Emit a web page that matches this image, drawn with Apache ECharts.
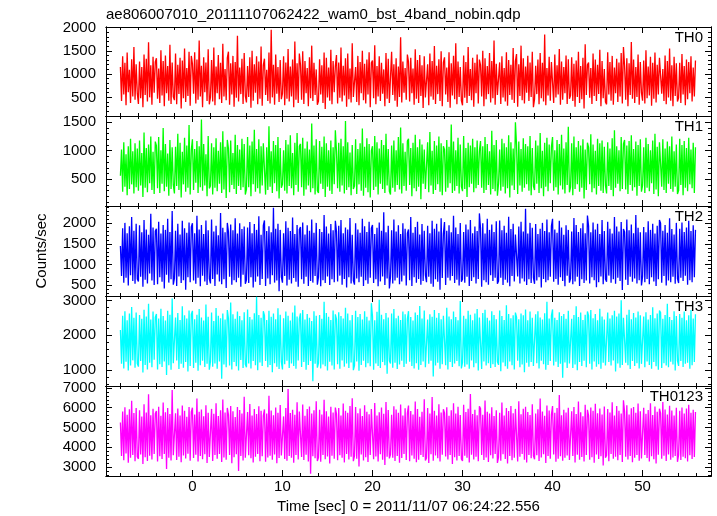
<!DOCTYPE html>
<html><head><meta charset="utf-8">
<script src="https://cdn.jsdelivr.net/npm/echarts@6/dist/echarts.min.js"></script>
<style>html,body{margin:0;padding:0;background:#fff}#c{width:717px;height:516px}</style>
</head><body><div id="c"></div>
<script>
const chartTitle = "ae806007010_20111107062422_wam0_bst_4band_nobin.qdp";
const xName = "Time [sec] 0 = 2011/11/07 06:24:22.556";
const yName = "Counts/sec";
const panelNames = ["TH0", "TH1", "TH2", "TH3", "TH0123"];
const timeStart = -8;
const binWidth = 0.125;

const th0 = [
1150,420,1380,560,1240,330,1460,610,1090,380,1320,520,1580,450,1210,590,
360,1270,480,1150,290,1420,550,1330,410,1680,500,1190,340,1370,600,1260,
1340,470,1120,380,1510,540,1280,310,1400,590,1170,430,1630,360,1250,510,
440,1440,350,1200,570,1350,260,1290,480,1550,400,1130,530,1480,320,1390,
1220,580,1470,370,1310,450,1720,520,1180,290,1360,610,1250,420,1530,350,
500,1300,410,1570,330,1160,590,1410,460,1240,380,1650,520,1110,440,1350,
1480,340,1230,560,1390,300,1260,490,1820,410,1140,570,1330,360,1450,530,
390,1170,510,1360,280,1500,430,1210,600,1380,350,1270,470,1590,320,1190,
1330,550,1090,420,1460,370,1950,500,1200,340,1420,580,1150,400,1300,460,
580,1380,330,1250,470,1540,410,1160,520,1310,290,1700,450,1230,380,1440,
1200,450,1490,360,1280,590,1130,310,1360,480,1610,420,1240,550,1100,340,
420,1320,560,1190,380,1460,250,1350,500,1140,430,1520,350,1280,610,1170,
1410,370,1250,490,1570,410,1180,540,1340,300,1440,460,1120,390,1660,510,
530,1150,400,1390,330,1260,590,1500,440,1220,370,1310,560,1470,290,1240,
1290,480,1620,350,1170,520,1380,420,1240,580,1100,310,1450,470,1330,380,
360,1480,550,1210,430,1340,300,1160,510,1790,390,1270,600,1130,450,1420,
1260,410,1350,590,1120,340,1530,470,1300,380,1410,530,1190,270,1380,500,
470,1210,330,1440,520,1280,450,1600,360,1180,570,1320,420,1490,310,1250,
1360,560,1140,400,1470,280,1230,540,1390,460,1660,350,1270,510,1150,430,
330,1400,490,1260,380,1580,530,1110,440,1350,300,1240,590,1420,370,1310,
1190,520,1500,310,1340,460,1170,570,1450,390,1280,480,1720,340,1220,550,
580,1250,360,1380,500,1130,410,1470,320,1300,550,1200,450,1560,380,1280,
1430,300,1210,530,1610,440,1340,370,1160,600,1390,420,1250,510,1480,290,
460,1180,570,1310,350,1450,480,1240,410,1850,330,1130,540,1370,430,1260,
1300,380,1420,500,1190,560,1540,340,1270,450,1150,590,1400,360,1320,470,
540,1360,420,1220,300,1290,510,1480,380,1170,460,1350,260,1640,550,1200,
1250,490,1130,360,1440,530,1310,420,1200,570,1520,310,1280,480,1110,400,
350,1470,560,1260,430,1390,340,1140,590,1330,400,1250,520,1450,370,1580,
1180,450,1340,310,1230,550,1690,470,1310,380,1150,510,1420,340,1260,600,
430,1290,370,1510,480,1160,540,1370,320,1240,470,1460,390,1200,560,1350,
1320,580,1110,420,1400,350,1280,500,1550,430,1190,310,1370,530,1230,410,
490,1240,380,1430,560,1170,330,1310,460,1260,590,1380,410,1140,520,1290];

const th1 = [
560,1020,280,1150,370,940,220,1080,330,1210,410,990,250,1130,360,1040,
300,1180,390,960,190,1320,350,1050,270,1110,430,1250,310,980,240,1160,
1090,340,1240,260,1010,420,1400,290,1120,370,950,210,1190,330,1060,400,
250,1070,380,1300,310,1140,180,980,410,1230,280,1090,350,1450,230,1010,
1200,310,1030,440,1170,260,1080,360,1550,300,1120,390,940,200,1260,340,
380,1130,230,1060,350,1220,290,1000,420,1150,260,1340,320,1070,170,1190,
1040,270,1180,400,960,330,1280,240,1100,380,1020,310,1210,360,1120,230,
320,1240,360,1090,200,1160,410,1370,280,1030,340,1200,250,1080,390,1130,
1150,230,1060,310,1430,370,990,260,1170,430,1100,290,1240,160,1050,350,
410,1010,300,1190,250,1110,380,1270,340,960,220,1140,400,1310,280,1080,
1120,360,1230,210,1040,320,1160,390,1020,270,1480,340,1090,230,1200,300,
260,1170,420,1070,330,1250,190,1130,370,1010,300,1180,240,1060,410,1360,
990,340,1140,280,1210,390,1080,250,1520,310,1150,360,970,220,1100,330,
380,1200,240,1030,410,1130,300,1390,210,1070,350,1220,270,1120,180,1000,
1080,310,1260,370,1150,230,1040,420,1190,330,1100,260,1300,390,1030,290,
230,1090,350,1180,280,1010,400,1240,320,1410,250,1130,380,980,300,1170,
1210,400,1050,200,1140,340,1280,290,1060,370,1200,150,1110,420,1020,330,
360,1150,270,1330,390,1000,240,1170,310,1090,410,1250,280,1130,220,1080,
1020,280,1190,350,1070,430,1460,260,1160,300,1010,380,1230,250,1110,370,
290,1260,330,1050,190,1140,360,1090,420,1210,270,1060,340,1180,400,1000,
1170,350,1080,260,1240,310,1120,400,990,230,1350,330,1100,290,1190,210,
420,1020,300,1210,370,1130,250,1060,340,1270,180,1150,390,1040,310,1500,
1100,240,1160,390,1030,280,1220,350,1120,410,1080,300,1260,220,1050,380,
310,1180,420,1090,260,1310,340,1000,200,1140,370,1230,290,1110,430,1070,
1240,300,1010,360,1190,230,1120,390,1280,320,1040,250,1150,400,1420,270,
360,1130,220,1250,330,1060,410,1170,280,1090,350,1200,160,1020,310,1140,
1060,410,1290,270,1110,340,1000,230,1210,380,1130,300,1180,260,1070,390,
250,1150,380,1040,310,1220,200,1360,350,1080,420,1010,290,1240,330,1120,
1190,320,1090,240,1170,400,1270,300,1030,360,1160,210,1100,380,1200,280,
390,1060,260,1230,350,1120,290,1010,430,1180,240,1300,320,1070,200,1150,
1130,370,1200,310,1040,260,1160,420,1080,330,1250,280,990,370,1110,240,
300,1210,400,1100,220,1170,350,1050,290,1230,410,1020,340,1140,260,1060];

const th2 = [
1450,720,1880,560,2010,680,1760,490,1930,740,2150,600,1820,530,1990,650,
590,1950,700,1780,460,2080,630,1850,540,1720,780,2230,610,1900,500,1810,
1870,520,2040,690,1750,580,1960,420,1840,750,2110,560,1790,640,2300,510,
660,1820,480,1990,710,1730,550,2060,620,1880,390,1770,690,2020,570,1910,
2000,610,1760,530,2180,680,1850,470,1960,730,1740,590,2070,500,1830,660,
540,2090,650,1800,480,1940,760,1710,590,2250,520,1890,640,1780,430,2010,
1790,700,1970,510,1830,620,2120,570,1750,680,2000,460,1860,750,1920,530,
620,1900,550,2030,690,1760,440,1980,580,1840,710,2170,500,1720,650,1950,
2070,480,1810,660,1930,520,1780,740,2380,560,1870,610,1990,350,1840,700,
560,1760,720,2050,490,1890,630,1810,540,2140,670,1740,580,1960,460,1850,
1910,640,2020,530,1730,700,1950,480,1820,600,2090,560,1770,720,2010,510,
690,1860,470,1790,620,2200,550,1920,710,1750,500,1980,640,1830,570,2060,
1800,590,1940,730,2080,510,1760,650,1900,440,1850,690,2130,540,1720,610,
510,2000,660,1850,570,1770,700,2110,480,1930,620,1790,530,2040,680,1880,
1960,550,1740,640,1890,470,2020,590,1820,710,2270,500,1780,660,1940,420,
700,1830,540,2090,610,1800,680,1950,520,1740,590,2000,730,1870,490,1760,
1850,620,2150,480,1770,690,1910,560,2040,650,1730,510,1980,600,1820,740,
570,1940,700,1760,530,2060,460,1870,640,1990,580,1800,390,2120,670,1750,
2030,500,1820,680,1950,610,1780,720,2180,550,1900,630,1740,490,2010,580,
640,1790,560,1970,700,1850,480,2080,600,1760,690,1920,540,1810,650,2240,
1880,460,2000,620,1750,570,2110,510,1840,740,1970,600,1790,680,2050,530,
600,2070,680,1830,500,1940,630,1770,560,2160,470,1860,720,1990,590,1730,
1760,710,1920,540,2040,660,1800,590,2350,500,1750,640,2010,550,1890,680,
530,1980,610,1740,690,1870,440,2010,650,1810,570,2090,620,1780,700,1930,
2110,580,1850,650,1770,510,2060,690,1900,600,1720,470,1950,730,1840,560,
660,1800,520,2130,590,1960,700,1790,480,1880,640,2000,550,1760,610,2190,
1930,540,1780,690,2020,620,1850,450,1990,570,1740,710,2080,520,1810,650,
580,2040,730,1870,560,1750,640,2150,530,1920,680,1800,600,2030,380,1860,
1790,630,2090,500,1830,700,1970,580,1760,660,2200,540,1890,620,1780,490,
710,1910,570,1780,650,2050,520,1840,690,1990,590,1750,480,1940,640,2080,
2000,560,1820,720,1960,490,1770,610,2120,570,1860,700,1730,530,2010,660,
550,1870,680,2020,600,1790,730,1900,510,2060,620,1810,570,1950,690,1840];

const th3 = [
2150,1180,2560,1050,2690,1240,2430,990,2620,1130,2810,1280,2500,1070,2650,1190,
1100,2580,1260,2470,930,2730,1150,2540,1020,2900,1210,2450,1080,2680,1300,2520,
2610,1020,2480,1170,2760,1090,2550,1250,2420,860,2700,1140,2590,1010,3050,1200,
1150,2510,1280,2640,1030,2440,1180,2830,1070,2570,1230,2480,960,2710,1120,2600,
2700,1060,2460,1210,2590,980,2750,1140,2510,1270,2420,1090,2880,1180,2530,1010,
1240,2650,1100,2410,1190,2780,1040,2560,1250,2490,750,2620,1160,2450,1080,2720,
2480,1130,2940,1020,2600,1230,2470,1110,2680,990,2550,1290,2430,1060,2660,1170,
1080,2740,1190,2520,1050,2450,1260,2630,1140,3100,1000,2580,1220,2500,1120,2690,
2570,1260,2440,1080,2700,1150,2530,940,2620,1200,2460,1100,2770,1030,2590,1240,
1020,2490,1170,2680,1270,2560,1060,2420,1190,2650,1120,2850,1040,2540,1280,2470,
2630,1090,2720,1230,2450,1010,2610,1150,2500,1260,2410,680,2690,1180,2560,1070,
1200,2580,1050,2470,1160,2960,1110,2640,990,2530,1240,2440,1130,2710,1020,2600,
2460,1170,2660,1040,2550,1280,2480,1100,2790,1190,2620,1060,2430,1220,2580,1000,
1130,2700,1250,2520,980,2610,1150,2450,1270,2690,1080,2530,1200,2420,1110,2920,
2540,1010,2430,1190,2670,1120,3020,1060,2590,1230,2460,1140,2640,900,2510,1260,
1190,2620,1070,2750,1210,2490,1030,2560,1160,2440,1270,2680,1090,2600,1180,2470,
2690,1240,2520,1120,2420,1050,2650,1200,2580,1010,2840,1150,2480,1250,2710,1080,
1060,2450,1180,2600,1270,2530,820,2720,1130,2500,1210,2640,1040,2460,1170,2560,
2600,1140,2790,1020,2540,1230,2460,1090,2680,1190,2520,1260,2430,1110,2980,1050,
1220,2560,1100,2470,1160,2700,1040,2590,1280,2430,1080,2620,1200,2750,990,2510,
2480,1030,2640,1250,2730,1130,2500,1200,2420,1060,2690,1170,2580,1090,2460,1240,
1150,2710,970,2550,1220,2440,1110,2860,1040,2610,1250,2490,1140,2570,1020,2650,
2520,1270,2460,1080,2620,1160,2570,940,2740,1210,2430,1100,2680,1230,2500,1120,
1100,2600,1200,2690,1050,2510,1270,2450,1170,2630,1010,2960,1150,2480,1260,2560,
2740,1130,2500,1240,2440,1090,2660,1180,2550,780,2610,1220,2470,1060,2700,1190,
1240,2470,1060,2580,1160,2830,1000,2520,1230,2650,1120,2440,1270,2590,1080,2680,
2560,1180,2720,1020,2490,1250,2610,1100,2430,1170,2760,1040,2540,1210,2450,1130,
1090,2650,1230,2480,1130,2570,1280,2700,960,2540,1190,2620,1070,3000,1150,2500,
2470,1210,2590,1140,2730,1030,2460,1260,2640,1120,2510,1200,2680,1050,2570,1180,
1170,2540,1080,2660,1250,2450,1150,2580,1040,2800,1230,2490,1110,2620,1010,2710,
2650,1060,2470,1200,2580,1130,2900,1080,2520,1240,2440,1160,2690,990,2550,1270,
1120,2610,1260,2500,1090,2680,1180,2430,1210,2570,1040,2720,1140,2480,1230,2600];

const th0123 = [
5250,3560,5810,3340,6020,3680,5640,3210,5920,3470,6350,3600,5730,3290,5980,3520,
3410,5870,3630,5550,3150,6180,3490,5760,3300,6680,3570,5620,3380,5950,3660,5700,
5830,3270,6050,3540,5590,3400,6260,3650,5770,2900,5990,3460,5680,3320,6900,3590,
3600,5720,3350,5960,3510,5610,3240,6110,3580,5850,3430,5540,3670,6030,3310,5790,
6000,3450,5660,3620,6470,3280,5800,3550,5910,3390,5570,3640,6120,3200,5740,3500,
3530,5940,3300,5690,3600,6220,3420,5580,3660,5870,3250,6410,3480,5760,3360,5990,
5650,3610,6080,3190,5820,3490,5530,3640,6040,2800,5880,3560,5710,3330,6550,3470,
3370,5780,3590,6190,3440,5610,3220,5930,3520,5680,3650,6070,3290,5840,3540,5600,
5910,3260,5700,3480,6600,3570,5860,3360,5620,3630,6010,3190,5750,3450,6140,3580,
3640,5560,3400,5980,3310,6950,3560,5730,3460,5890,3210,5640,3600,6280,3380,5810,
5780,3500,6160,3350,5590,3620,5940,3270,6060,2650,5710,3540,5870,3440,6330,3300,
3480,5900,3260,5650,3610,6400,3390,5820,3530,5560,3180,6050,3570,5760,3420,6010,
5690,3340,5980,3590,5610,3460,6210,3230,5850,3650,5740,3380,6090,3520,6480,3290,
3560,6030,3410,5720,3020,5960,3630,5580,3320,6120,3490,5800,3250,5670,3600,5930,
5850,3390,6240,3530,5600,3280,5770,3640,6010,3360,5690,3100,6290,3510,5880,3430,
3620,5640,3470,6070,3300,5910,3560,5750,3210,6160,3450,5600,3660,5970,3350,5730,
6110,3290,5830,3580,5660,3420,6310,3240,5940,3370,5540,3610,5800,3500,6430,3320,
3450,5990,3200,5700,3640,6540,3310,5850,3580,5610,3440,6180,3270,5760,3620,5920,
5740,3530,6020,3380,5590,3600,5870,3150,6230,3490,5710,3330,6050,3560,5630,3410,
3300,6150,3570,5780,3460,5950,3220,6700,3620,5680,3380,5890,3510,5620,3290,6070,
5960,3610,5640,3350,6370,3480,5800,3250,5710,3590,6020,3430,5580,3660,5870,3200,
3500,5750,3310,6260,3640,5600,3400,5980,3180,5830,3550,6090,3340,5720,3470,5940,
5880,3270,6330,3520,5670,3650,5950,3370,6050,3230,5780,3610,5630,3440,6180,3560,
3390,5700,3590,5920,3300,6460,3480,5810,3640,5590,3200,6110,3550,5860,3420,5650,
6080,3630,5740,3260,5990,3410,6640,3540,5620,3310,5900,3470,5760,3580,6000,3350,
3440,5820,3560,6040,3230,5680,3620,6320,3370,5770,3500,5570,3280,6150,3600,5890,
5610,3360,6010,3490,5850,3210,6200,3630,5720,3400,5960,3540,5650,3070,6060,3460,
3580,5930,3290,5760,3650,6270,3420,5600,3510,6080,3340,5840,3610,5710,3250,6380,
5790,3520,6130,3380,5660,3560,5970,3240,6030,3470,5740,3600,6210,3310,5820,3430,
3330,6000,3600,5690,3450,5880,3270,6220,3540,5630,3390,6060,3180,5800,3620,5950,
5720,3410,6290,3570,5910,3300,5650,3630,6100,3360,5860,3480,5600,3550,6000,3260,
3610,5840,3350,6010,3520,5700,3440,5960,3280,6150,3590,5750,3400,5890,3500,5780];

const xRange = [-9.6, 57.6];
const xMajorTicks = [0, 10, 20, 30, 40, 50];
const xMinorTicks = [-8,-6,-4,-2,2,4,6,8,12,14,16,18,22,24,26,28,32,34,36,38,42,44,46,48,52,54,56];
const yRanges = [[100, 2010], [30, 1610], [235, 2420], [545, 3125], [2540, 7100]];
const yMajorTicks = [
  [500, 1000, 1500, 2000],
  [500, 1000, 1500],
  [500, 1000, 1500, 2000],
  [1000, 2000, 3000],
  [3000, 4000, 5000, 6000, 7000]];
const yMinorTicks = [
  [200,300,400,600,700,800,900,1100,1200,1300,1400,1600,1700,1800,1900],
  [100,200,300,400,600,700,800,900,1100,1200,1300,1400,1600],
  [300,400,600,700,800,900,1100,1200,1300,1400,1600,1700,1800,1900,2100,2200,2300,2400],
  [600,800,1200,1400,1600,1800,2200,2400,2600,2800],
  [2600,2800,3200,3400,3600,3800,4200,4400,4600,4800,5200,5400,5600,5800,6200,6400,6600,6800]];

const seriesValues = [th0, th1, th2, th3, th0123];
const colors = ['#ff0000', '#00ff00', '#0000ff', '#00ffff', '#ff00ff'];

const FONT = 'Liberation Sans, Arial, Helvetica, sans-serif';
const gridTops = [27, 116, 206, 296, 386];
const gridHeights = [89, 90, 90, 90, 90];
const gridLeft = 106, gridRight = 6;
const plainNum = v => String(v);

const grids = [], xAxes = [], yAxes = [], series = [], graphics = [];

for (let g = 0; g < 5; g++) {
  grids.push({left: gridLeft, right: gridRight, top: gridTops[g], height: gridHeights[g],
    containLabel: false, outerBoundsMode: 'none', show: false});
  const lastPanel = g === 4;
  const mkX = (pos, ticks, len, withLabel) => ({
    type: 'value', gridIndex: g, position: pos, min: xRange[0], max: xRange[1], offset: 0,
    axisLine: {show: true, onZero: false, lineStyle: {color: '#000', width: 1}},
    axisTick: {show: true, inside: true, length: len, customValues: ticks, lineStyle: {color: '#000', width: 1}},
    axisLabel: {show: withLabel, customValues: ticks, margin: 3, color: '#000', fontSize: 15, fontFamily: FONT, formatter: plainNum},
    splitLine: {show: false}, minorTick: {show: false},
    name: (withLabel ? xName : ''), nameLocation: 'middle', nameGap: 23,
    nameTextStyle: {color: '#000', fontSize: 15, fontFamily: FONT}
  });
  const xBase = xAxes.length;
  xAxes.push(mkX('bottom', xMajorTicks, 6, lastPanel));
  xAxes.push(mkX('bottom', xMinorTicks, 3, false));
  xAxes.push(mkX('top', xMajorTicks, 6, false));
  xAxes.push(mkX('top', xMinorTicks, 3, false));

  const mkY = (pos, ticks, len, withLabel) => ({
    type: 'value', gridIndex: g, position: pos, min: yRanges[g][0], max: yRanges[g][1], offset: 0,
    axisLine: {show: true, onZero: false, lineStyle: {color: '#000', width: 1}},
    axisTick: {show: true, inside: true, length: len, customValues: ticks, lineStyle: {color: '#000', width: 1}},
    axisLabel: {show: withLabel, customValues: ticks, margin: 10, color: '#000', fontSize: 15, fontFamily: FONT, formatter: plainNum},
    splitLine: {show: false}, minorTick: {show: false}
  });
  const yBase = yAxes.length;
  yAxes.push(mkY('left', yMajorTicks[g], 6, true));
  yAxes.push(mkY('left', yMinorTicks[g], 3, false));
  yAxes.push(mkY('right', yMajorTicks[g], 6, false));
  yAxes.push(mkY('right', yMinorTicks[g], 3, false));

  series.push({
    type: 'line', name: panelNames[g], xAxisIndex: xBase, yAxisIndex: yBase,
    data: seriesValues[g].map((v, i) => [timeStart + i * binWidth, v]),
    showSymbol: false, symbol: 'none', animation: false, clip: true, sampling: null,
    lineStyle: {color: colors[g], width: 1.3}, itemStyle: {color: colors[g]}
  });

  graphics.push({type: 'text', right: 717 - 703, top: gridTops[g] + 3,
    style: {text: panelNames[g], fill: '#000', font: '15px ' + FONT}});
}

graphics.push({type: 'text', left: 106, top: 7,
  style: {text: chartTitle, fill: '#000', font: '15px ' + FONT}});
graphics.push({type: 'text', x: 42, y: 251, rotation: Math.PI / 2,
  style: {text: yName, fill: '#000', font: '15px ' + FONT, align: 'center', verticalAlign: 'middle'}});

const chart = echarts.init(document.getElementById('c'), null, {renderer: 'canvas'});
chart.setOption({
  animation: false,
  backgroundColor: '#fff',
  grid: grids, xAxis: xAxes, yAxis: yAxes, series: series, graphic: graphics
});
</script></body></html>
